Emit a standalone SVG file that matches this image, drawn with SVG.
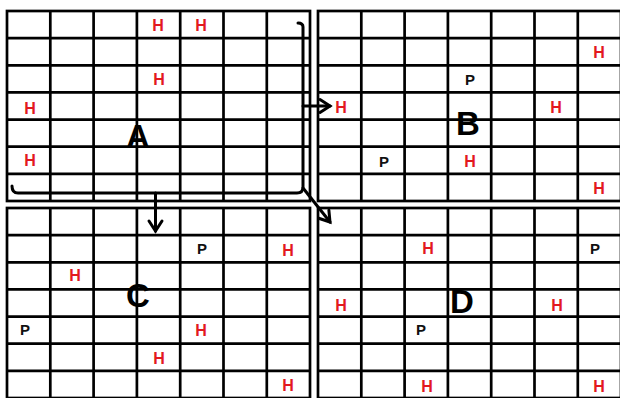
<svg xmlns="http://www.w3.org/2000/svg" xmlns:xlink="http://www.w3.org/1999/xlink" width="620" height="398" viewBox="0 0 620 398">
<style>
.gl{fill:none;stroke:#000;stroke-width:2.7}
.h{font-family:"Liberation Sans",Arial,sans-serif;font-weight:bold;font-size:16px;fill:#e3191f;text-anchor:middle;dominant-baseline:central}
.p{font-family:"Liberation Sans",Arial,sans-serif;font-weight:bold;font-size:15px;fill:#111;text-anchor:middle;dominant-baseline:central}
.big{font-family:"Liberation Sans",Arial,sans-serif;font-weight:bold;font-size:33px;fill:#000;text-anchor:middle;dominant-baseline:central}
.con{fill:none;stroke:#000;stroke-width:3;stroke-linecap:round;stroke-linejoin:round}
</style>
<defs>
<g id="grid">
<rect class="gl" x="0" y="0" width="303" height="190"/>
<path class="gl" d="M43.3,0V190M86.6,0V190M129.9,0V190M173.2,0V190M216.5,0V190M259.8,0V190M0,27.14H303M0,54.3H303M0,81.4H303M0,108.6H303M0,135.7H303M0,162.9H303"/>
</g>
<marker id="ah" markerUnits="userSpaceOnUse" markerWidth="20" markerHeight="20" refX="0" refY="0" viewBox="-12 -10 14 20" orient="auto">
<path d="M-10,-6.5 L0,0 L-10,6.5" fill="none" stroke="#000" stroke-width="3" stroke-linecap="round" stroke-linejoin="miter"/>
</marker>
</defs>
<rect x="0" y="0" width="620" height="398" fill="#fff"/>
<g id="gridA">
<use xlink:href="#grid" x="7" y="11"/>
<text class="h" x="158" y="25">H</text>
<text class="h" x="201" y="25">H</text>
<text class="h" x="159" y="79">H</text>
<text class="h" x="30" y="108">H</text>
<text class="h" x="30" y="160">H</text>
<text class="big" x="138" y="136">A</text>
</g>
<g id="gridB">
<use xlink:href="#grid" x="318" y="11"/>
<text class="h" x="599" y="52">H</text>
<text class="p" x="470" y="79">P</text>
<text class="h" x="341" y="107">H</text>
<text class="h" x="556" y="107">H</text>
<text class="big" x="468" y="123">B</text>
<text class="p" x="384" y="161">P</text>
<text class="h" x="470" y="161">H</text>
<text class="h" x="599" y="188">H</text>
</g>
<g id="gridC">
<use xlink:href="#grid" x="7" y="208"/>
<text class="p" x="202" y="248">P</text>
<text class="h" x="288" y="250">H</text>
<text class="h" x="75" y="275">H</text>
<text class="big" x="138" y="295">C</text>
<text class="p" x="25" y="329">P</text>
<text class="h" x="201" y="330">H</text>
<text class="h" x="159" y="358">H</text>
<text class="h" x="288" y="385">H</text>
</g>
<g id="gridD">
<use xlink:href="#grid" x="318" y="208"/>
<text class="h" x="428" y="248">H</text>
<text class="p" x="595" y="248">P</text>
<text class="h" x="341" y="305">H</text>
<text class="big" x="462" y="301">D</text>
<text class="h" x="557" y="305">H</text>
<text class="p" x="421" y="329">P</text>
<text class="h" x="427" y="386">H</text>
<text class="h" x="599" y="386">H</text>
</g>
<g id="connectors">
<path class="con" d="M12,186 Q12,193 18,193 L297,193 Q303,193 303,187 L303,27 Q303,23 298,23"/>
<path class="con" d="M303,106 L330,106" marker-end="url(#ah)"/>
<path class="con" d="M155.5,193 L155.5,231" marker-end="url(#ah)"/>
<path class="con" d="M303,188 L330,222" marker-end="url(#ah)"/>
</g>
</svg>
